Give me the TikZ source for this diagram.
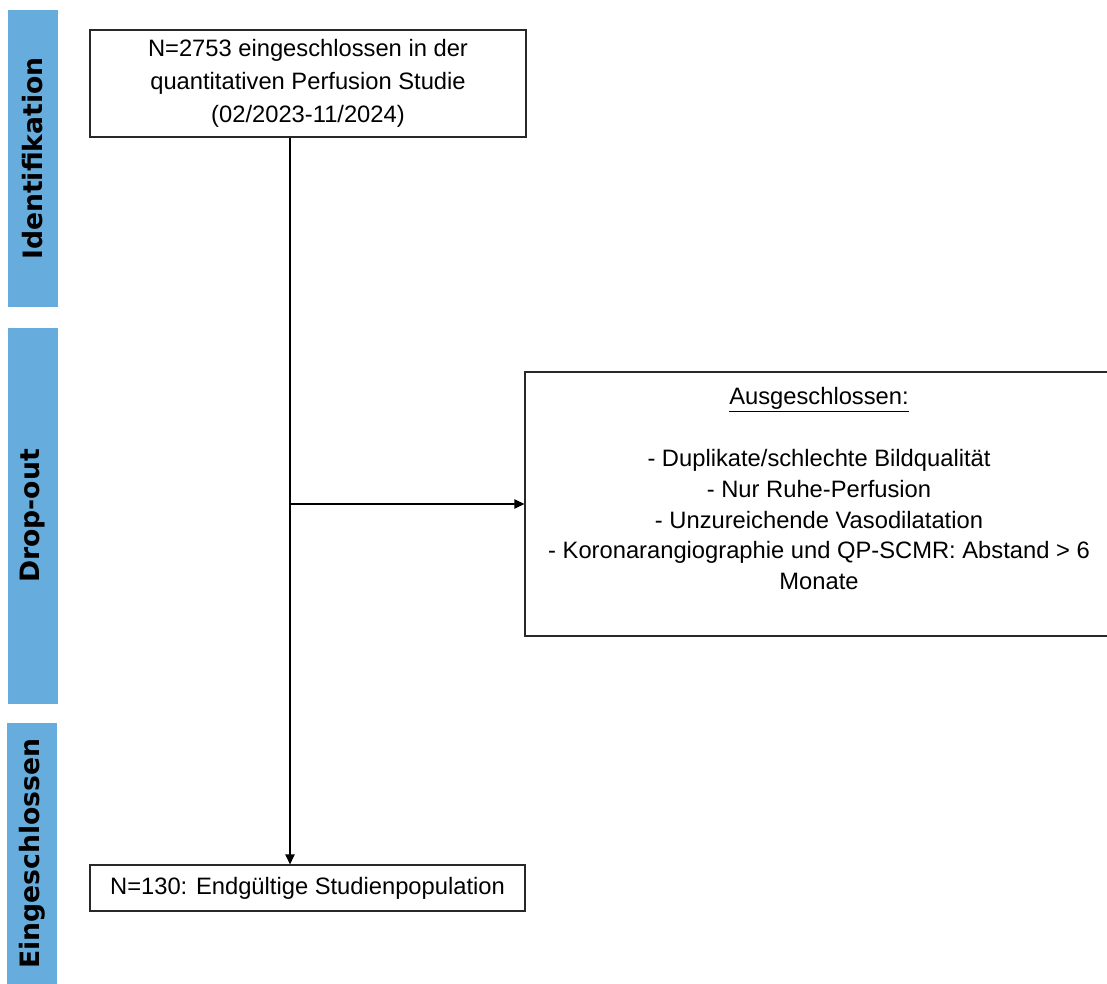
\documentclass[tikz,border=0pt]{standalone}
\usepackage{fontspec}
\setmainfont{Liberation Sans}
\newfontfamily\barfont{DejaVu Sans}
\usetikzlibrary{arrows.meta}
\definecolor{barblue}{RGB}{102,173,221}
\definecolor{boxline}{RGB}{40,40,40}
\begin{document}
\begin{tikzpicture}[x=0.75pt,y=-0.75pt,
  phasebar/.style={fill=barblue,draw=none,inner sep=0pt,minimum width=37.5pt},
  phaselabel/.style={rotate=90,font=\barfont\bfseries\fontsize{20}{24}\selectfont,text=black},
  flowbox/.style={draw=boxline,line width=0.9pt,fill=white,align=center,inner sep=0pt,
    font=\fontsize{17.8}{24.75}\selectfont},
  flowarrow/.style={draw=black,line width=0.9pt,-{Triangle[length=7.5pt,width=7pt]}}]
\useasboundingbox (0,0) rectangle (1107,984);
% phase bars
\node[phasebar,minimum height=222.75pt] (barA) at (32.5,158.5) {};
\node[phaselabel] (labA) at (barA.center) {Identifikation};
\node[phasebar,minimum height=282pt] (barB) at (33,516) {};
\node[phaselabel] (labB) at (barB.center) {Drop-out};
\node[phasebar,minimum height=195.75pt] (barC) at (32,853.5) {};
\node[phaselabel] (labC) at (barC.center) {Eingeschlossen};
% boxes
\node[flowbox,minimum width=327pt,minimum height=80.25pt] (top) at (308,83.5)
  {N=2753 eingeschlossen in der\\quantitativen Perfusion Studie\\(02/2023-11/2024)};
\node[flowbox,minimum width=326.25pt,minimum height=34.5pt] (bot) at (307.5,888)
  {N=130: Endgültige Studienpopulation};
\node[flowbox,minimum width=441pt,minimum height=198pt,
  font=\fontsize{17.8}{23.1}\selectfont] (excl) at (819,504)
  {\underline{Ausgeschlossen:}\\ \mbox{}\\
   - Duplikate/schlechte Bildqualität\\
   - Nur Ruhe-Perfusion\\
   - Unzureichende Vasodilatation\\
   - Koronarangiographie und QP-SCMR: Abstand > 6\\
   Monate\\ \mbox{}};
% connectors
\coordinate (spine) at (290,0);
\draw[flowarrow] (top.south -| spine) -- (bot.north -| spine);
\draw[flowarrow] (spine |- excl.west) -- (excl.west);
\end{tikzpicture}
\end{document}
